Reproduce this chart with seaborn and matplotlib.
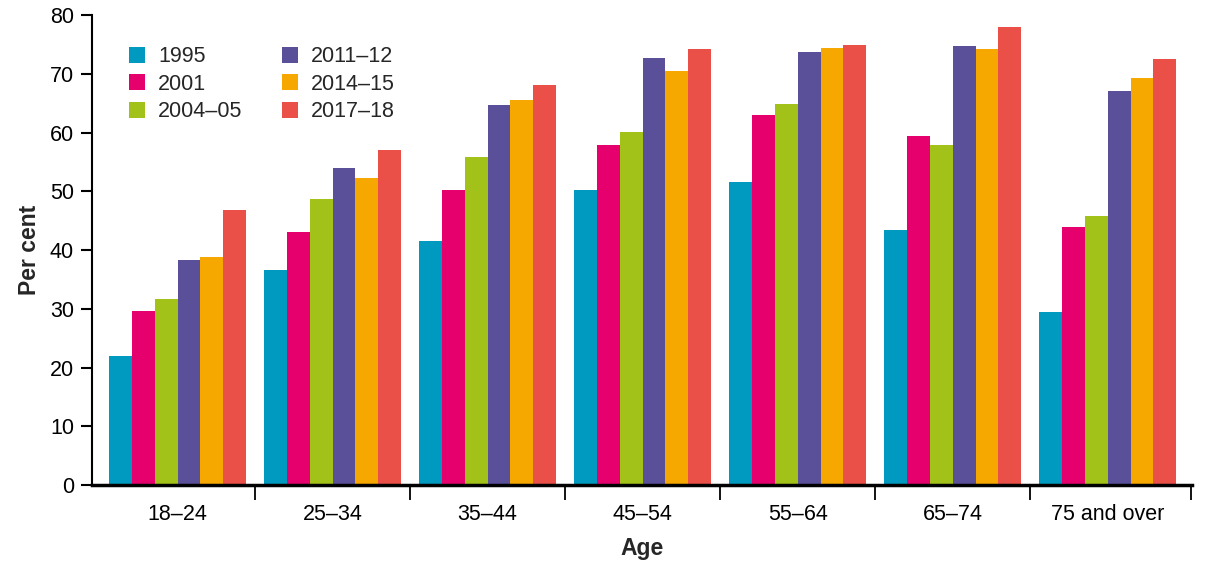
import pandas as pd
import numpy as np
import matplotlib
matplotlib.use('Agg')
import matplotlib.pyplot as plt
import seaborn as sns

ages = ['18–24', '25–34', '35–44', '45–54', '55–64', '65–74', '75 and over']
years = ['1995', '2001', '2004–05', '2011–12', '2014–15', '2017–18']

v1995 = [22.0, 36.6, 41.5, 50.2, 51.6, 43.4, 29.4]
v2001 = [29.6, 43.1, 50.2, 57.9, 63.0, 59.4, 43.9]
v2004 = [31.7, 48.7, 55.8, 60.1, 64.9, 57.9, 45.8]
v2011 = [38.3, 54.0, 64.7, 72.7, 73.7, 74.7, 67.1]
v2014 = [38.8, 52.3, 65.5, 70.5, 74.4, 74.2, 69.3]
v2017 = [46.8, 57.0, 68.1, 74.2, 74.9, 78.0, 72.5]

colors = ['#0099BF', '#E5006D', '#A2C21A', '#5A5099', '#F6A800', '#EA5048']

series = [v1995, v2001, v2004, v2011, v2014, v2017]
rows = []
for yr, vals in zip(years, series):
    for a, v in zip(ages, vals):
        rows.append({'Age': a, 'Year': yr, 'Per cent': v})
df = pd.DataFrame(rows)

sns.set_style('white')
plt.rcParams['font.family'] = ['Liberation Sans', 'DejaVu Sans']

fig = plt.figure(figsize=(12.09, 5.64), dpi=100)
ax = fig.add_axes([0.0761, 0.140, 0.910, 0.833])

sns.barplot(data=df, x='Age', y='Per cent', hue='Year', order=ages, hue_order=years,
            palette=colors, saturation=1, width=0.884, gap=0, errorbar=None,
            linewidth=0, ax=ax)

ax.set_xlim(-0.552, 6.545)
ax.set_ylim(0, 80)
ax.set_yticks(range(0, 81, 10))
ax.tick_params(axis='y', left=True, labelsize=15.5, length=8, width=1.5, direction='out',
               colors='black', pad=5)
ax.tick_params(axis='x', which='major', bottom=True, labelsize=15.5, length=0, pad=14, colors='black')
ax.set_xticks([i + 0.5 for i in range(6)] + [6.535], minor=True)
ax.tick_params(axis='x', which='minor', bottom=True, length=11, width=1.3, direction='out', color='black')

sns.despine(ax=ax)
ax.spines['left'].set_linewidth(1.5)
ax.spines['left'].set_color('black')
ax.spines['bottom'].set_linewidth(2.5)
ax.spines['bottom'].set_color('black')

ax.set_xlabel('Age', fontsize=16.5, fontweight='bold', labelpad=8)
ax.set_ylabel('Per cent', fontsize=16.5, fontweight='bold', labelpad=6)

ax.legend(loc='upper left', bbox_to_anchor=(0.016, 0.975), ncol=2, frameon=False,
          fontsize=15.5, handlelength=0.75, handleheight=0.75, handletextpad=0.6,
          columnspacing=1.85, labelspacing=0.3)

fig.savefig('out.png', dpi=100)
